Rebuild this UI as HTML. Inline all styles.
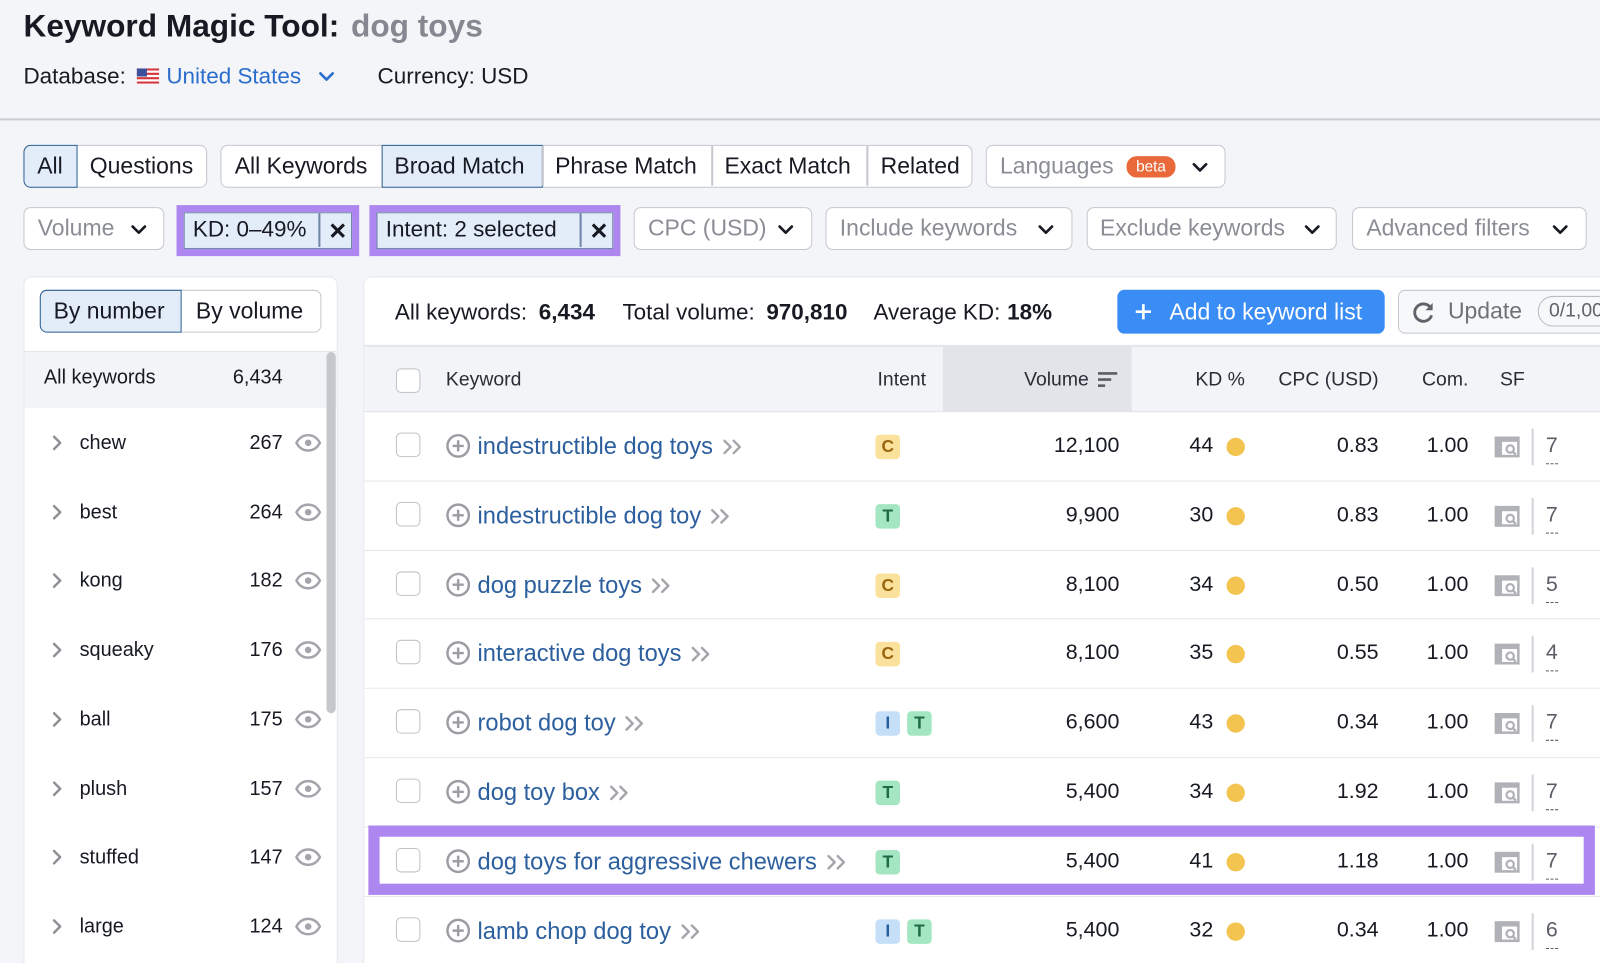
<!DOCTYPE html>
<html><head><meta charset="utf-8">
<style>
*{box-sizing:border-box;margin:0;padding:0}
html,body{width:1600px;height:963px;overflow:hidden;background:#f4f5f9}
body{font-family:"Liberation Sans",Arial,sans-serif;color:#171a22}
#w{position:absolute;left:0;top:0;width:1568px;height:944px;transform:scale(1.020408);transform-origin:0 0;overflow:hidden}
.a{position:absolute}
.t{position:absolute;white-space:nowrap}
.box{position:absolute;background:#fff;border:1.5px solid #c5c8ce;border-radius:7px}
.tab{position:absolute;top:0;height:100%;display:flex;align-items:center;font-size:22.5px;white-space:nowrap}
.sel{background:#e3ecf9;border:1.5px solid #2f6294}
.g{color:#8a8d94}
.ph{font-size:22.5px;color:#8a8d94;line-height:42px;height:42px}
.pur{position:absolute;border:7px solid #ad86f0}
.lp{position:absolute;left:0;width:308px;height:67.7px}
.lp .w{position:absolute;left:54px;top:22px;font-size:19.5px;line-height:24px}
.lp .n{position:absolute;left:173px;width:80px;text-align:right;top:22px;font-size:19.5px;line-height:24px}
.lp .ch{position:absolute;left:27px;top:26px}
.lp .ey{position:absolute;left:265px;top:25px}
.row{position:absolute;left:0;width:1260px;height:67.8px;border-bottom:1.5px solid #e4e6ea;background:#fff}
.cb{position:absolute;width:24px;height:24px;border:1.5px solid #bfc2c8;border-radius:5px;background:#fff}
.row .cb{left:31px;top:20px}
.row .pl{position:absolute;left:80px;top:21px}
.row .kw{position:absolute;left:111px;top:18px;height:30px;line-height:30px;font-size:23.2px;color:#2c5f9e;white-space:nowrap}
.kw svg{margin-left:9px;vertical-align:-1px}
.bd{position:absolute;top:22px;width:24px;height:24px;border-radius:4px;font-size:17px;font-weight:bold;text-align:center;line-height:24px}
.bC{background:#fbe29c;color:#9a6610}
.bT{background:#a3e6c1;color:#1e6b46}
.bI{background:#c5dff9;color:#2b5da1}
.num{position:absolute;top:19px;height:28px;line-height:28px;font-size:21px;text-align:right;white-space:nowrap}
.dot{position:absolute;left:845px;top:25px;width:18px;height:18px;border-radius:50%;background:#f3c44f}
.sfi{position:absolute;left:1107px;top:23px}
.sep{position:absolute;left:1144px;top:16px;width:1.5px;height:36px;background:#d3d5da}
.sfn{position:absolute;left:1158px;top:19px;height:28px;line-height:28px;font-size:21px;color:#5b5e66}
.sfn:after{content:"";position:absolute;left:0;right:0;bottom:-4px;border-bottom:1.5px dashed #5b5e66}
.hd{position:absolute;top:21px;font-size:19px;line-height:24px;color:#2a2d35;white-space:nowrap}
</style></head><body>
<div id="w">

<!-- Title -->
<div class="t" style="left:23px;top:6px;font-size:31px;font-weight:bold;line-height:40px">Keyword Magic Tool:</div>
<div class="t" style="left:344px;top:6px;font-size:31px;font-weight:bold;line-height:40px;color:#858890">dog toys</div>

<div class="t" style="left:23px;top:62px;font-size:22px;line-height:26px">Database:</div>
<svg class="a" style="left:134px;top:67px" width="22" height="15" viewBox="0 0 22 15">
<rect width="22" height="15" fill="#fff"/>
<rect y="0" width="22" height="2.1" fill="#d6343a"/><rect y="4.3" width="22" height="2.1" fill="#d6343a"/><rect y="8.6" width="22" height="2.1" fill="#d6343a"/><rect y="12.9" width="22" height="2.1" fill="#d6343a"/>
<rect width="10" height="8" fill="#3b4f9a"/></svg>
<div class="t" style="left:163px;top:62px;font-size:22px;line-height:26px;color:#2b6dcc">United States</div>
<svg class="a" style="left:312px;top:70px" width="16" height="10"><polyline points="2,2 8,8 14,2" fill="none" stroke="#2b6dcc" stroke-width="2.6" stroke-linecap="round" stroke-linejoin="round"/></svg>
<div class="t" style="left:370px;top:62px;font-size:22px;line-height:26px">Currency: USD</div>

<div class="a" style="left:0;top:116px;width:1568px;height:1.5px;background:#c8cbd2"></div>

<!-- Tabs row -->
<div class="box" style="left:23px;top:142px;width:180px;height:42px">
  <div class="tab sel" style="left:-1.5px;top:-1.5px;height:42px;width:53px;border-radius:7px 0 0 7px;padding-left:13px">All</div>
  <div class="tab" style="left:64px">Questions</div>
</div>
<div class="box" style="left:216px;top:142px;width:737px;height:42px">
  <div class="tab" style="left:13px">All Keywords</div>
  <div class="tab sel" style="left:156.5px;top:-1.5px;height:42px;width:158px;padding-left:12px">Broad Match</div>
  <div class="a" style="left:314px;top:0;width:1.5px;height:39px;background:#c5c8ce"></div>
  <div class="tab" style="left:327px">Phrase Match</div>
  <div class="a" style="left:480px;top:0;width:1.5px;height:39px;background:#c5c8ce"></div>
  <div class="tab" style="left:493px">Exact Match</div>
  <div class="a" style="left:632px;top:0;width:1.5px;height:39px;background:#c5c8ce"></div>
  <div class="tab" style="left:646px">Related</div>
</div>
<div class="box" style="left:966px;top:142px;width:235px;height:42px">
  <div class="tab g" style="left:13px">Languages</div>
  <div class="a" style="left:137px;top:10px;width:48px;height:21px;border-radius:10px;background:#e9693b;color:#fff;font-size:15px;line-height:21px;text-align:center">beta</div>
  <svg class="a" style="left:201px;top:16px" width="16" height="10"><polyline points="2,2 8,8 14,2" fill="none" stroke="#171a22" stroke-width="2.6" stroke-linecap="round" stroke-linejoin="round"/></svg>
</div>

<!-- Filter row -->
<div class="box" style="left:23px;top:203px;width:138px;height:42px">
  <div class="t ph" style="left:13px;top:-1.5px">Volume</div>
  <svg class="a" style="left:104px;top:16px" width="16" height="10"><polyline points="2,2 8,8 14,2" fill="none" stroke="#171a22" stroke-width="2.6" stroke-linecap="round" stroke-linejoin="round"/></svg>
</div>
<div class="pur" style="left:173px;top:201px;width:179px;height:50px"></div>
<div class="a" style="left:180px;top:208px;width:165px;height:36px;background:#e3ecf9;border:1.5px solid #6f86a8">
  <div class="t" style="left:8px;top:-1px;font-size:22px;line-height:33px">KD: 0–49%</div>
  <div class="a" style="left:131px;top:0;width:1.5px;height:33px;background:#6f86a8"></div>
  <svg class="a" style="left:142px;top:9px" width="16" height="16"><path d="M2 2L14 14M14 2L2 14" stroke="#171a22" stroke-width="3"/></svg>
</div>
<div class="pur" style="left:362px;top:201px;width:246px;height:50px"></div>
<div class="a" style="left:369px;top:208px;width:232px;height:36px;background:#e3ecf9;border:1.5px solid #6f86a8">
  <div class="t" style="left:8px;top:-1px;font-size:22px;line-height:33px">Intent: 2 selected</div>
  <div class="a" style="left:198px;top:0;width:1.5px;height:33px;background:#6f86a8"></div>
  <svg class="a" style="left:209px;top:9px" width="16" height="16"><path d="M2 2L14 14M14 2L2 14" stroke="#171a22" stroke-width="3"/></svg>
</div>
<div class="box" style="left:621px;top:203px;width:175px;height:42px">
  <div class="t ph" style="left:13px;top:-1.5px">CPC (USD)</div>
  <svg class="a" style="left:140px;top:16px" width="16" height="10"><polyline points="2,2 8,8 14,2" fill="none" stroke="#171a22" stroke-width="2.6" stroke-linecap="round" stroke-linejoin="round"/></svg>
</div>
<div class="box" style="left:809px;top:203px;width:242px;height:42px">
  <div class="t ph" style="left:13px;top:-1.5px">Include keywords</div>
  <svg class="a" style="left:207px;top:16px" width="16" height="10"><polyline points="2,2 8,8 14,2" fill="none" stroke="#171a22" stroke-width="2.6" stroke-linecap="round" stroke-linejoin="round"/></svg>
</div>
<div class="box" style="left:1065px;top:203px;width:245px;height:42px">
  <div class="t ph" style="left:12px;top:-1.5px">Exclude keywords</div>
  <svg class="a" style="left:212px;top:16px" width="16" height="10"><polyline points="2,2 8,8 14,2" fill="none" stroke="#171a22" stroke-width="2.6" stroke-linecap="round" stroke-linejoin="round"/></svg>
</div>
<div class="box" style="left:1325px;top:203px;width:230px;height:42px">
  <div class="t ph" style="left:13px;top:-1.5px">Advanced filters</div>
  <svg class="a" style="left:195px;top:16px" width="16" height="10"><polyline points="2,2 8,8 14,2" fill="none" stroke="#171a22" stroke-width="2.6" stroke-linecap="round" stroke-linejoin="round"/></svg>
</div>

<!-- Left panel -->
<div class="a" style="left:23px;top:271px;width:308px;height:700px;background:#fff;border-radius:8px 8px 0 0;border:1px solid #e6e8ec;overflow:hidden">
  <div class="a" style="left:15px;top:12px;width:276px;height:42px;border:1.5px solid #c5c8ce;border-radius:7px;background:#fff">
    <div class="tab sel" style="left:-1.5px;top:-1.5px;height:42px;width:139px;border-radius:7px 0 0 7px;padding-left:13px">By number</div>
    <div class="tab" style="left:152px">By volume</div>
  </div>
  <div class="a" style="left:0;top:72px;width:308px;height:1.5px;background:#e3e5ea"></div>
  <div class="a" style="left:0;top:73px;width:308px;height:55px;background:#f3f4f8"></div>
  <div class="t" style="left:19px;top:86px;font-size:19.5px;line-height:24px">All keywords</div>
  <div class="t" style="left:173px;width:80px;text-align:right;top:86px;font-size:19.5px;line-height:24px">6,434</div>
  <div class="a" style="left:296px;top:73px;width:9px;height:354px;border-radius:5px;background:#c6c7cc"></div>

  <div class="lp" style="top:128px"><svg class="ch" width="10" height="16"><polyline points="2,2 8,8 2,14" fill="none" stroke="#8e9096" stroke-width="2.4" stroke-linecap="round" stroke-linejoin="round"/></svg><div class="w">chew</div><div class="n">267</div><svg class="ey" width="26" height="18" viewBox="0 0 26 18"><path d="M1.5 9C4.5 3.5 8.5 1.5 13 1.5S21.5 3.5 24.5 9C21.5 14.5 17.5 16.5 13 16.5S4.5 14.5 1.5 9Z" fill="none" stroke="#a3a5aa" stroke-width="2.4"/><circle cx="13" cy="9" r="3.2" fill="#a3a5aa"/></svg></div>
  <div class="lp" style="top:195.7px"><svg class="ch" width="10" height="16"><polyline points="2,2 8,8 2,14" fill="none" stroke="#8e9096" stroke-width="2.4" stroke-linecap="round" stroke-linejoin="round"/></svg><div class="w">best</div><div class="n">264</div><svg class="ey" width="26" height="18" viewBox="0 0 26 18"><path d="M1.5 9C4.5 3.5 8.5 1.5 13 1.5S21.5 3.5 24.5 9C21.5 14.5 17.5 16.5 13 16.5S4.5 14.5 1.5 9Z" fill="none" stroke="#a3a5aa" stroke-width="2.4"/><circle cx="13" cy="9" r="3.2" fill="#a3a5aa"/></svg></div>
  <div class="lp" style="top:263.4px"><svg class="ch" width="10" height="16"><polyline points="2,2 8,8 2,14" fill="none" stroke="#8e9096" stroke-width="2.4" stroke-linecap="round" stroke-linejoin="round"/></svg><div class="w">kong</div><div class="n">182</div><svg class="ey" width="26" height="18" viewBox="0 0 26 18"><path d="M1.5 9C4.5 3.5 8.5 1.5 13 1.5S21.5 3.5 24.5 9C21.5 14.5 17.5 16.5 13 16.5S4.5 14.5 1.5 9Z" fill="none" stroke="#a3a5aa" stroke-width="2.4"/><circle cx="13" cy="9" r="3.2" fill="#a3a5aa"/></svg></div>
  <div class="lp" style="top:331.1px"><svg class="ch" width="10" height="16"><polyline points="2,2 8,8 2,14" fill="none" stroke="#8e9096" stroke-width="2.4" stroke-linecap="round" stroke-linejoin="round"/></svg><div class="w">squeaky</div><div class="n">176</div><svg class="ey" width="26" height="18" viewBox="0 0 26 18"><path d="M1.5 9C4.5 3.5 8.5 1.5 13 1.5S21.5 3.5 24.5 9C21.5 14.5 17.5 16.5 13 16.5S4.5 14.5 1.5 9Z" fill="none" stroke="#a3a5aa" stroke-width="2.4"/><circle cx="13" cy="9" r="3.2" fill="#a3a5aa"/></svg></div>
  <div class="lp" style="top:398.8px"><svg class="ch" width="10" height="16"><polyline points="2,2 8,8 2,14" fill="none" stroke="#8e9096" stroke-width="2.4" stroke-linecap="round" stroke-linejoin="round"/></svg><div class="w">ball</div><div class="n">175</div><svg class="ey" width="26" height="18" viewBox="0 0 26 18"><path d="M1.5 9C4.5 3.5 8.5 1.5 13 1.5S21.5 3.5 24.5 9C21.5 14.5 17.5 16.5 13 16.5S4.5 14.5 1.5 9Z" fill="none" stroke="#a3a5aa" stroke-width="2.4"/><circle cx="13" cy="9" r="3.2" fill="#a3a5aa"/></svg></div>
  <div class="lp" style="top:466.5px"><svg class="ch" width="10" height="16"><polyline points="2,2 8,8 2,14" fill="none" stroke="#8e9096" stroke-width="2.4" stroke-linecap="round" stroke-linejoin="round"/></svg><div class="w">plush</div><div class="n">157</div><svg class="ey" width="26" height="18" viewBox="0 0 26 18"><path d="M1.5 9C4.5 3.5 8.5 1.5 13 1.5S21.5 3.5 24.5 9C21.5 14.5 17.5 16.5 13 16.5S4.5 14.5 1.5 9Z" fill="none" stroke="#a3a5aa" stroke-width="2.4"/><circle cx="13" cy="9" r="3.2" fill="#a3a5aa"/></svg></div>
  <div class="lp" style="top:534.2px"><svg class="ch" width="10" height="16"><polyline points="2,2 8,8 2,14" fill="none" stroke="#8e9096" stroke-width="2.4" stroke-linecap="round" stroke-linejoin="round"/></svg><div class="w">stuffed</div><div class="n">147</div><svg class="ey" width="26" height="18" viewBox="0 0 26 18"><path d="M1.5 9C4.5 3.5 8.5 1.5 13 1.5S21.5 3.5 24.5 9C21.5 14.5 17.5 16.5 13 16.5S4.5 14.5 1.5 9Z" fill="none" stroke="#a3a5aa" stroke-width="2.4"/><circle cx="13" cy="9" r="3.2" fill="#a3a5aa"/></svg></div>
  <div class="lp" style="top:601.9px"><svg class="ch" width="10" height="16"><polyline points="2,2 8,8 2,14" fill="none" stroke="#8e9096" stroke-width="2.4" stroke-linecap="round" stroke-linejoin="round"/></svg><div class="w">large</div><div class="n">124</div><svg class="ey" width="26" height="18" viewBox="0 0 26 18"><path d="M1.5 9C4.5 3.5 8.5 1.5 13 1.5S21.5 3.5 24.5 9C21.5 14.5 17.5 16.5 13 16.5S4.5 14.5 1.5 9Z" fill="none" stroke="#a3a5aa" stroke-width="2.4"/><circle cx="13" cy="9" r="3.2" fill="#a3a5aa"/></svg></div>
</div>

<!-- Main panel -->
<div class="a" style="left:356px;top:271px;width:1260px;height:700px;background:#fff;border-radius:8px 0 0 0;border:1px solid #e6e8ec;overflow:hidden">
  <div class="t" style="left:30px;top:21px;font-size:22px;line-height:26px">All keywords:</div>
  <div class="t" style="left:171px;top:21px;font-size:22px;line-height:26px;font-weight:bold">6,434</div>
  <div class="t" style="left:253px;top:21px;font-size:22px;line-height:26px">Total volume:</div>
  <div class="t" style="left:394px;top:21px;font-size:22px;line-height:26px;font-weight:bold">970,810</div>
  <div class="t" style="left:499px;top:21px;font-size:22px;line-height:26px">Average KD:</div>
  <div class="t" style="left:630px;top:21px;font-size:22px;line-height:26px;font-weight:bold">18%</div>

  <div class="a" style="left:738px;top:12px;width:262px;height:43px;border-radius:7px;background:#3a8df5">
    <svg class="a" style="left:17px;top:13px" width="17" height="17"><path d="M8.5 1V16M1 8.5H16" stroke="#fff" stroke-width="2.6"/></svg>
    <div class="t" style="left:51px;top:0;font-size:22.5px;line-height:43px;color:#fff">Add to keyword list</div>
  </div>
  <div class="a" style="left:1013px;top:12px;width:260px;height:43px;border-radius:7px;border:1.5px solid #c5c8ce;background:#f7f8fa">
    <svg class="a" style="left:12px;top:9px" width="24" height="24" viewBox="0 0 24 24"><path d="M19.5 8.5A8.5 8.5 0 1 0 20 15" fill="none" stroke="#5f6269" stroke-width="2.8"/><path d="M21 3V10H14Z" fill="#5f6269"/></svg>
    <div class="t" style="left:48px;top:0;font-size:22.5px;line-height:40px;color:#6e7178">Update</div>
    <div class="a" style="left:136px;top:5px;width:110px;height:30px;border-radius:15px;border:1.5px solid #b9bcc2;font-size:19px;line-height:27px;padding-left:10px;color:#5f6269">0/1,000</div>
  </div>

  <div class="a" style="left:0;top:66px;width:1260px;height:1.5px;background:#e3e5ea"></div>
  <div class="a" style="left:0;top:67.5px;width:1260px;height:64.5px;background:#f3f4f8;border-bottom:1.5px solid #dfe1e6">
    <div class="a" style="left:567px;top:0;width:185px;height:63px;background:#e3e4ea"></div>
    <div class="cb" style="left:31px;top:21px"></div>
    <div class="hd" style="left:80px">Keyword</div>
    <div class="hd" style="left:503px">Intent</div>
    <div class="hd" style="left:600px;width:110px;text-align:right">Volume</div>
    <svg class="a" style="left:719px;top:24px" width="19" height="16"><path d="M0 2H19M0 8H13M0 14H7" stroke="#5b5e66" stroke-width="2.6"/></svg>
    <div class="hd" style="left:780px;width:83px;text-align:right">KD %</div>
    <div class="hd" style="left:880px;width:114px;text-align:right">CPC (USD)</div>
    <div class="hd" style="left:1000px;width:82px;text-align:right">Com.</div>
    <div class="hd" style="left:1113px">SF</div>
  </div>

  <!-- rows -->
  <div class="row" style="top:132px">
    <div class="cb"></div>
    <svg class="pl" width="24" height="24"><circle cx="12" cy="12" r="10.5" fill="none" stroke="#9b9da3" stroke-width="2.4"/><path d="M12 6.5V17.5M6.5 12H17.5" stroke="#9b9da3" stroke-width="2.4"/></svg>
    <div class="kw">indestructible dog toys<svg width="20" height="16"><path d="M2 2L8 8L2 14M11 2L17 8L11 14" fill="none" stroke="#a4a6ab" stroke-width="2.4" stroke-linecap="round" stroke-linejoin="round"/></svg></div>
    <div class="bd bC" style="left:501px">C</div>
    <div class="num" style="left:600px;width:140px">12,100</div>
    <div class="num" style="left:772px;width:60px">44</div><div class="dot"></div>
    <div class="num" style="left:914px;width:80px">0.83</div>
    <div class="num" style="left:1002px;width:80px">1.00</div>
    <svg class="sfi" width="26" height="22"><path d="M2 20V2H24V6H8V20Z" fill="#b0b2b7"/><rect x="2" y="2" width="22" height="18" fill="none" stroke="#b0b2b7" stroke-width="2.5"/><circle cx="16" cy="13" r="3.6" fill="none" stroke="#b0b2b7" stroke-width="2.2"/><path d="M18.5 15.5L21.5 18.5" stroke="#b0b2b7" stroke-width="2.4"/></svg>
    <div class="sep"></div><div class="sfn">7</div>
  </div>
  <div class="row" style="top:199.8px">
    <div class="cb"></div>
    <svg class="pl" width="24" height="24"><circle cx="12" cy="12" r="10.5" fill="none" stroke="#9b9da3" stroke-width="2.4"/><path d="M12 6.5V17.5M6.5 12H17.5" stroke="#9b9da3" stroke-width="2.4"/></svg>
    <div class="kw">indestructible dog toy<svg width="20" height="16"><path d="M2 2L8 8L2 14M11 2L17 8L11 14" fill="none" stroke="#a4a6ab" stroke-width="2.4" stroke-linecap="round" stroke-linejoin="round"/></svg></div>
    <div class="bd bT" style="left:501px">T</div>
    <div class="num" style="left:600px;width:140px">9,900</div>
    <div class="num" style="left:772px;width:60px">30</div><div class="dot"></div>
    <div class="num" style="left:914px;width:80px">0.83</div>
    <div class="num" style="left:1002px;width:80px">1.00</div>
    <svg class="sfi" width="26" height="22"><path d="M2 20V2H24V6H8V20Z" fill="#b0b2b7"/><rect x="2" y="2" width="22" height="18" fill="none" stroke="#b0b2b7" stroke-width="2.5"/><circle cx="16" cy="13" r="3.6" fill="none" stroke="#b0b2b7" stroke-width="2.2"/><path d="M18.5 15.5L21.5 18.5" stroke="#b0b2b7" stroke-width="2.4"/></svg>
    <div class="sep"></div><div class="sfn">7</div>
  </div>
  <div class="row" style="top:267.6px">
    <div class="cb"></div>
    <svg class="pl" width="24" height="24"><circle cx="12" cy="12" r="10.5" fill="none" stroke="#9b9da3" stroke-width="2.4"/><path d="M12 6.5V17.5M6.5 12H17.5" stroke="#9b9da3" stroke-width="2.4"/></svg>
    <div class="kw">dog puzzle toys<svg width="20" height="16"><path d="M2 2L8 8L2 14M11 2L17 8L11 14" fill="none" stroke="#a4a6ab" stroke-width="2.4" stroke-linecap="round" stroke-linejoin="round"/></svg></div>
    <div class="bd bC" style="left:501px">C</div>
    <div class="num" style="left:600px;width:140px">8,100</div>
    <div class="num" style="left:772px;width:60px">34</div><div class="dot"></div>
    <div class="num" style="left:914px;width:80px">0.50</div>
    <div class="num" style="left:1002px;width:80px">1.00</div>
    <svg class="sfi" width="26" height="22"><path d="M2 20V2H24V6H8V20Z" fill="#b0b2b7"/><rect x="2" y="2" width="22" height="18" fill="none" stroke="#b0b2b7" stroke-width="2.5"/><circle cx="16" cy="13" r="3.6" fill="none" stroke="#b0b2b7" stroke-width="2.2"/><path d="M18.5 15.5L21.5 18.5" stroke="#b0b2b7" stroke-width="2.4"/></svg>
    <div class="sep"></div><div class="sfn">5</div>
  </div>
  <div class="row" style="top:335.4px">
    <div class="cb"></div>
    <svg class="pl" width="24" height="24"><circle cx="12" cy="12" r="10.5" fill="none" stroke="#9b9da3" stroke-width="2.4"/><path d="M12 6.5V17.5M6.5 12H17.5" stroke="#9b9da3" stroke-width="2.4"/></svg>
    <div class="kw">interactive dog toys<svg width="20" height="16"><path d="M2 2L8 8L2 14M11 2L17 8L11 14" fill="none" stroke="#a4a6ab" stroke-width="2.4" stroke-linecap="round" stroke-linejoin="round"/></svg></div>
    <div class="bd bC" style="left:501px">C</div>
    <div class="num" style="left:600px;width:140px">8,100</div>
    <div class="num" style="left:772px;width:60px">35</div><div class="dot"></div>
    <div class="num" style="left:914px;width:80px">0.55</div>
    <div class="num" style="left:1002px;width:80px">1.00</div>
    <svg class="sfi" width="26" height="22"><path d="M2 20V2H24V6H8V20Z" fill="#b0b2b7"/><rect x="2" y="2" width="22" height="18" fill="none" stroke="#b0b2b7" stroke-width="2.5"/><circle cx="16" cy="13" r="3.6" fill="none" stroke="#b0b2b7" stroke-width="2.2"/><path d="M18.5 15.5L21.5 18.5" stroke="#b0b2b7" stroke-width="2.4"/></svg>
    <div class="sep"></div><div class="sfn">4</div>
  </div>
  <div class="row" style="top:403.2px">
    <div class="cb"></div>
    <svg class="pl" width="24" height="24"><circle cx="12" cy="12" r="10.5" fill="none" stroke="#9b9da3" stroke-width="2.4"/><path d="M12 6.5V17.5M6.5 12H17.5" stroke="#9b9da3" stroke-width="2.4"/></svg>
    <div class="kw">robot dog toy<svg width="20" height="16"><path d="M2 2L8 8L2 14M11 2L17 8L11 14" fill="none" stroke="#a4a6ab" stroke-width="2.4" stroke-linecap="round" stroke-linejoin="round"/></svg></div>
    <div class="bd bI" style="left:501px">I</div><div class="bd bT" style="left:532px">T</div>
    <div class="num" style="left:600px;width:140px">6,600</div>
    <div class="num" style="left:772px;width:60px">43</div><div class="dot"></div>
    <div class="num" style="left:914px;width:80px">0.34</div>
    <div class="num" style="left:1002px;width:80px">1.00</div>
    <svg class="sfi" width="26" height="22"><path d="M2 20V2H24V6H8V20Z" fill="#b0b2b7"/><rect x="2" y="2" width="22" height="18" fill="none" stroke="#b0b2b7" stroke-width="2.5"/><circle cx="16" cy="13" r="3.6" fill="none" stroke="#b0b2b7" stroke-width="2.2"/><path d="M18.5 15.5L21.5 18.5" stroke="#b0b2b7" stroke-width="2.4"/></svg>
    <div class="sep"></div><div class="sfn">7</div>
  </div>
  <div class="row" style="top:471px">
    <div class="cb"></div>
    <svg class="pl" width="24" height="24"><circle cx="12" cy="12" r="10.5" fill="none" stroke="#9b9da3" stroke-width="2.4"/><path d="M12 6.5V17.5M6.5 12H17.5" stroke="#9b9da3" stroke-width="2.4"/></svg>
    <div class="kw">dog toy box<svg width="20" height="16"><path d="M2 2L8 8L2 14M11 2L17 8L11 14" fill="none" stroke="#a4a6ab" stroke-width="2.4" stroke-linecap="round" stroke-linejoin="round"/></svg></div>
    <div class="bd bT" style="left:501px">T</div>
    <div class="num" style="left:600px;width:140px">5,400</div>
    <div class="num" style="left:772px;width:60px">34</div><div class="dot"></div>
    <div class="num" style="left:914px;width:80px">1.92</div>
    <div class="num" style="left:1002px;width:80px">1.00</div>
    <svg class="sfi" width="26" height="22"><path d="M2 20V2H24V6H8V20Z" fill="#b0b2b7"/><rect x="2" y="2" width="22" height="18" fill="none" stroke="#b0b2b7" stroke-width="2.5"/><circle cx="16" cy="13" r="3.6" fill="none" stroke="#b0b2b7" stroke-width="2.2"/><path d="M18.5 15.5L21.5 18.5" stroke="#b0b2b7" stroke-width="2.4"/></svg>
    <div class="sep"></div><div class="sfn">7</div>
  </div>
  <div class="row" style="top:538.8px">
    <div class="cb"></div>
    <svg class="pl" width="24" height="24"><circle cx="12" cy="12" r="10.5" fill="none" stroke="#9b9da3" stroke-width="2.4"/><path d="M12 6.5V17.5M6.5 12H17.5" stroke="#9b9da3" stroke-width="2.4"/></svg>
    <div class="kw">dog toys for aggressive chewers<svg width="20" height="16"><path d="M2 2L8 8L2 14M11 2L17 8L11 14" fill="none" stroke="#a4a6ab" stroke-width="2.4" stroke-linecap="round" stroke-linejoin="round"/></svg></div>
    <div class="bd bT" style="left:501px">T</div>
    <div class="num" style="left:600px;width:140px">5,400</div>
    <div class="num" style="left:772px;width:60px">41</div><div class="dot"></div>
    <div class="num" style="left:914px;width:80px">1.18</div>
    <div class="num" style="left:1002px;width:80px">1.00</div>
    <svg class="sfi" width="26" height="22"><path d="M2 20V2H24V6H8V20Z" fill="#b0b2b7"/><rect x="2" y="2" width="22" height="18" fill="none" stroke="#b0b2b7" stroke-width="2.5"/><circle cx="16" cy="13" r="3.6" fill="none" stroke="#b0b2b7" stroke-width="2.2"/><path d="M18.5 15.5L21.5 18.5" stroke="#b0b2b7" stroke-width="2.4"/></svg>
    <div class="sep"></div><div class="sfn">7</div>
  </div>
  <div class="row" style="top:606.6px">
    <div class="cb"></div>
    <svg class="pl" width="24" height="24"><circle cx="12" cy="12" r="10.5" fill="none" stroke="#9b9da3" stroke-width="2.4"/><path d="M12 6.5V17.5M6.5 12H17.5" stroke="#9b9da3" stroke-width="2.4"/></svg>
    <div class="kw">lamb chop dog toy<svg width="20" height="16"><path d="M2 2L8 8L2 14M11 2L17 8L11 14" fill="none" stroke="#a4a6ab" stroke-width="2.4" stroke-linecap="round" stroke-linejoin="round"/></svg></div>
    <div class="bd bI" style="left:501px">I</div><div class="bd bT" style="left:532px">T</div>
    <div class="num" style="left:600px;width:140px">5,400</div>
    <div class="num" style="left:772px;width:60px">32</div><div class="dot"></div>
    <div class="num" style="left:914px;width:80px">0.34</div>
    <div class="num" style="left:1002px;width:80px">1.00</div>
    <svg class="sfi" width="26" height="22"><path d="M2 20V2H24V6H8V20Z" fill="#b0b2b7"/><rect x="2" y="2" width="22" height="18" fill="none" stroke="#b0b2b7" stroke-width="2.5"/><circle cx="16" cy="13" r="3.6" fill="none" stroke="#b0b2b7" stroke-width="2.2"/><path d="M18.5 15.5L21.5 18.5" stroke="#b0b2b7" stroke-width="2.4"/></svg>
    <div class="sep"></div><div class="sfn">6</div>
  </div>
</div>

<!-- highlight frame on row 7 -->
<div class="a" style="left:361px;top:809px;width:1202px;height:68px;border:11px solid #ad86f0"></div>

</div>
</body></html>
